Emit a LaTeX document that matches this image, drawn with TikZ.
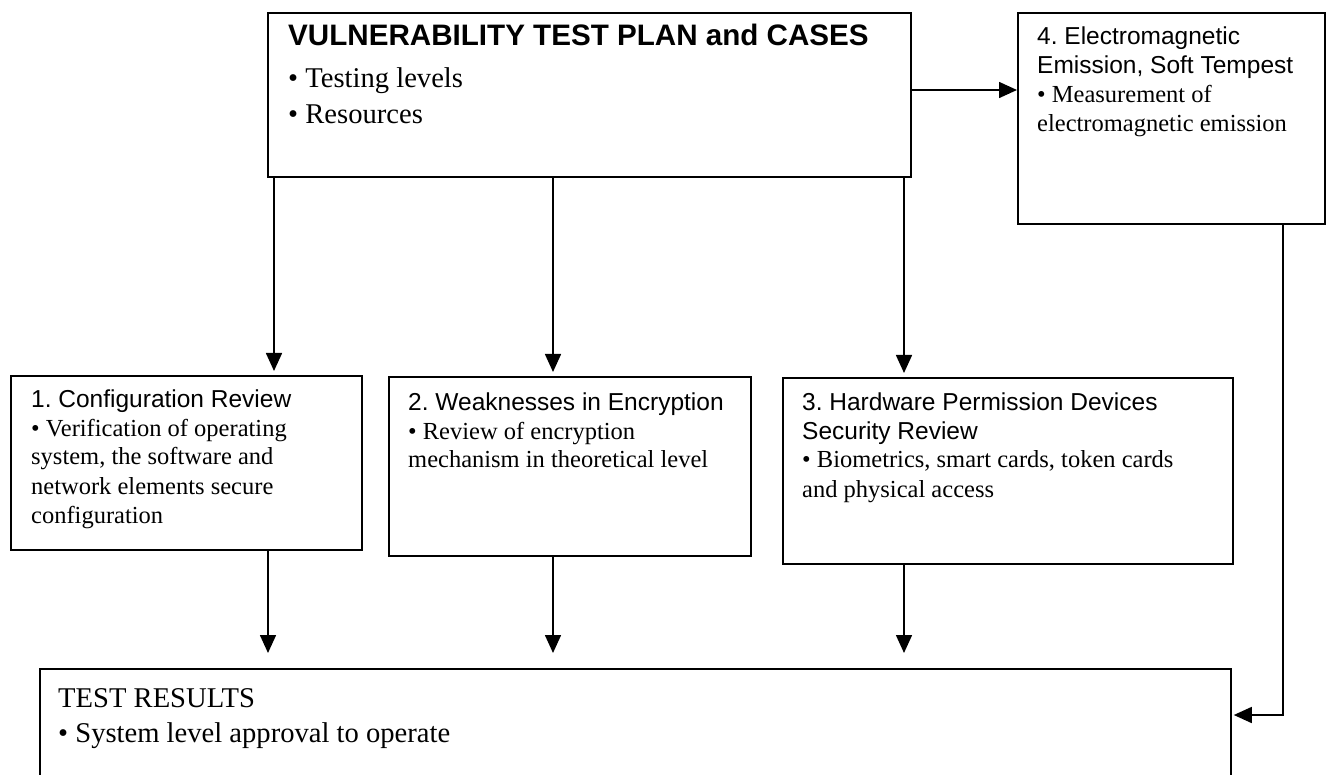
\documentclass[tikz,border=0pt]{standalone}
\usepackage{fontspec}
\setmainfont{Liberation Serif}
\setsansfont{Liberation Sans}
\usetikzlibrary{arrows.meta}
\frenchspacing
\tikzset{
  panel/.style={draw, line width=1.8pt, inner sep=0pt, anchor=north west},
  boxtext/.style={inner sep=0pt, anchor=base west},
  link/.style={line width=1.6pt, -{Triangle[length=18pt,width=16pt]}},
}
\newcommand\bodysize{\fontsize{24.5}{29}\selectfont}
\newcommand\bigsize{\fontsize{28.6}{36}\selectfont}

\begin{document}
\begin{tikzpicture}[x=1pt,y=-1pt]
\useasboundingbox (0,0) rectangle (1328,775);
\clip (0,0) rectangle (1328,775);

% boxes
\node[panel, minimum width=643pt, minimum height=164pt] (plan) at (267,12) {};
\node[panel, minimum width=307pt, minimum height=211pt] (em) at (1017,12) {};
\node[panel, minimum width=351pt, minimum height=174pt] (cfg) at (10,375) {};
\node[panel, minimum width=362pt, minimum height=179pt] (enc) at (388,376) {};
\node[panel, minimum width=450pt, minimum height=186pt] (hw) at (782,377) {};
\node[panel, minimum width=1191pt, minimum height=140pt] (results) at (39,668) {};

% box texts
\node[boxtext] (planText) at (288,46) {\parbox[t]{610pt}{\bigsize
  {\fontsize{29.6}{36}\selectfont\sffamily\bfseries VULNERABILITY TEST PLAN and CASES}\\[6pt]
  • Testing levels\\
  • Resources}};
\node[boxtext] (emText) at (1037,45) {\parbox[t]{285pt}{\bodysize
  \sffamily 4. Electromagnetic\\
  Emission, Soft Tempest\\
  \rmfamily • Measurement of\\
  electromagnetic emission}};
\node[boxtext] (cfgText) at (31,407) {\parbox[t]{325pt}{\bodysize
  \sffamily 1. Configuration Review\\
  \rmfamily • Verification of operating\\
  system, the software and\\
  network elements secure\\
  configuration}};
\node[boxtext] (encText) at (408,410) {\parbox[t]{335pt}{\bodysize
  \sffamily 2. Weaknesses in Encryption\\
  \rmfamily • Review of encryption\\
  mechanism in theoretical level}};
\node[boxtext] (hwText) at (802,410) {\parbox[t]{420pt}{\bodysize
  \sffamily 3. Hardware Permission Devices\\
  Security Review\\
  \rmfamily • Biometrics, smart cards, token cards\\
  and physical access}};
\node[boxtext] (resText) at (58,707) {\parbox[t]{1150pt}{\fontsize{28.6}{35}\selectfont
  TEST RESULTS\\
  • System level approval to operate}};

% guide positions for connectors
\coordinate (xa) at (274,0);
\coordinate (xb) at (553,0);
\coordinate (xc) at (904,0);
\coordinate (xd) at (268,0);
\coordinate (xe) at (1283,0);
\coordinate (ya) at (0,90);
\coordinate (yb) at (0,715);

% connectors
\draw[link] (plan.east |- ya) -- (em.west |- ya);
\draw[link, shorten >=4pt] (xa |- plan.south) -- (xa |- cfg.north);
\draw[link, shorten >=4pt] (xb |- plan.south) -- (xb |- enc.north);
\draw[link, shorten >=4pt] (xc |- plan.south) -- (xc |- hw.north);
\draw[link, shorten >=15pt] (xd |- cfg.south) -- (xd |- results.north);
\draw[link, shorten >=15pt] (xb |- enc.south) -- (xb |- results.north);
\draw[link, shorten >=15pt] (xc |- hw.south) -- (xc |- results.north);
\draw[link, shorten >=2pt] (xe |- em.south) |- (results.east |- yb);
\end{tikzpicture}
\end{document}
